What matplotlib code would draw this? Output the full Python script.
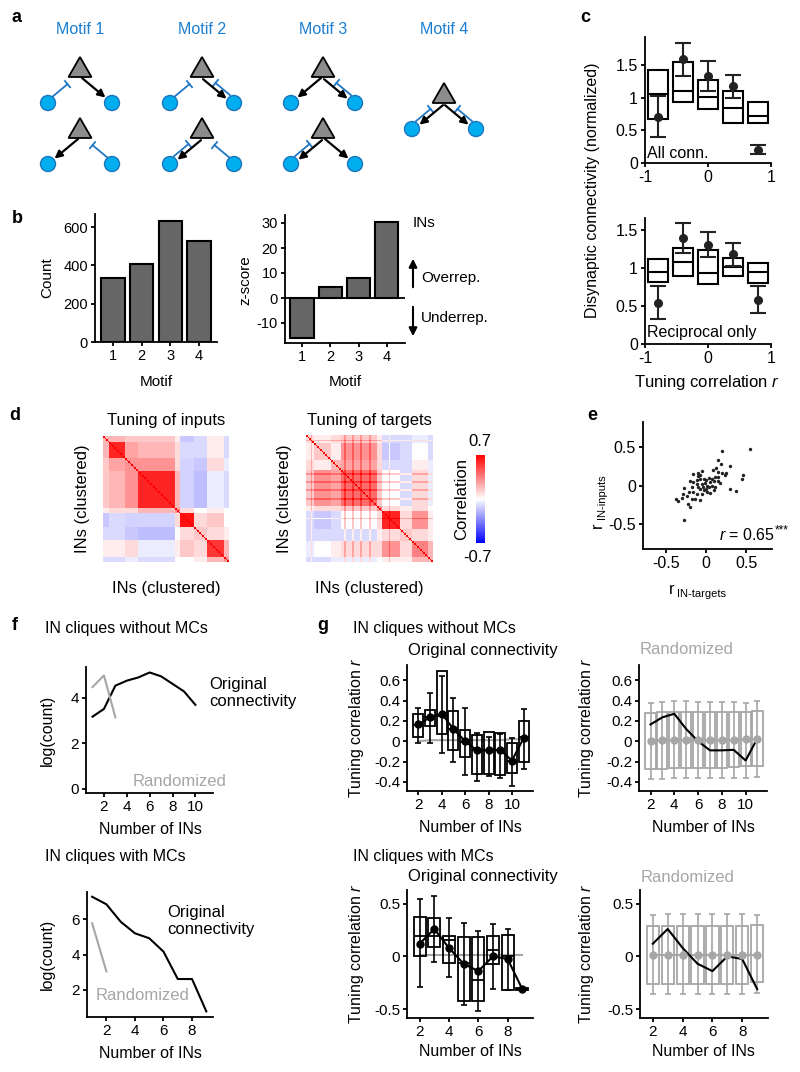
import numpy as np
import matplotlib
matplotlib.use('Agg')
import matplotlib.pyplot as plt
from matplotlib.patches import Polygon, Circle, FancyArrowPatch
from matplotlib.ticker import FuncFormatter

plt.rcParams['font.family'] = ['Liberation Sans', 'DejaVu Sans']
plt.rcParams['axes.unicode_minus'] = False
plt.rcParams['mathtext.fontset'] = 'custom'
plt.rcParams['mathtext.it'] = 'Liberation Sans:italic'
plt.rcParams['mathtext.rm'] = 'Liberation Sans'

# ---- data ----
# a: motif wiring, per row (left, right): e = excitatory arrow, i = inhibitory, b = both
motif_names = ['Motif 1', 'Motif 2', 'Motif 3', 'Motif 4']
motif_rows = [
    [('i', 'e'), ('e', 'i')],
    [('i', 'b'), ('b', 'i')],
    [('e', 'b'), ('b', 'e')],
    [('b', 'b')],
]

# b
motif_ids = [1, 2, 3, 4]
motif_count = [334, 406, 633, 529]
motif_z = [-16, 4.4, 8, 30.5]

# c
c_bins = [-0.8, -0.4, 0, 0.4, 0.8]
c_all_q1 = [0.675, 0.93, 0.83, 0.62, 0.62]
c_all_med = [1.05, 1.11, 1.015, 0.84, 0.72]
c_all_q3 = [1.43, 1.54, 1.27, 1.11, 0.94]
c_all_mean = [0.71, 1.59, 1.335, 1.18, 0.20]
c_all_lo = [0.40, 1.33, 1.10, 0.99, 0.14]
c_all_hi = [1.03, 1.84, 1.56, 1.35, 0.27]
c_rec_q1 = [0.82, 0.90, 0.79, 0.90, 0.80]
c_rec_med = [0.95, 1.075, 0.935, 1.01, 0.95]
c_rec_q3 = [1.12, 1.27, 1.24, 1.13, 1.07]
c_rec_mean = [0.54, 1.40, 1.31, 1.19, 0.58]
c_rec_lo = [0.33, 1.20, 1.14, 1.03, 0.41]
c_rec_hi = [0.76, 1.60, 1.47, 1.33, 0.76]

# d: cluster boundaries (IN index) and between-cluster correlations (upper triangle)
inputs_bounds = [0, 4, 14, 22, 46, 49, 58, 66, 77, 80]
inputs_blocks = [
    [0.20, 0.20, 0.15, 0.15, 0.05, -0.15, -0.10, 0.05, -0.10],
    [0.60, 0.25, 0.20, 0.10, -0.10, -0.10, 0.05, -0.10],
    [0.30, 0.30, 0.10, -0.12, -0.15, 0.10, -0.05],
    [0.60, 0.20, -0.12, -0.18, -0.05, -0.10],
    [0.30, 0.10, 0.00, 0.05, 0.00],
    [0.65, 0.10, 0.15, 0.00],
    [0.15, 0.10, 0.05],
    [0.55, 0.20],
    [0.30],
]
targets_bounds = [0, 5, 16, 22, 45, 48, 59, 67, 77, 80]
targets_blocks = [
    [0.10, 0.05, 0.10, 0.15, 0.05, -0.10, -0.10, -0.05, -0.10],
    [0.15, 0.05, 0.30, 0.10, -0.15, -0.10, 0.00, -0.10],
    [0.20, 0.25, 0.10, -0.10, -0.10, 0.05, -0.05],
    [0.40, 0.15, 0.00, -0.10, 0.10, -0.05],
    [0.30, 0.10, 0.05, 0.10, 0.00],
    [0.60, 0.10, 0.30, 0.05],
    [0.15, 0.10, 0.05],
    [0.35, 0.20],
    [0.20],
]
targets_hubs = [3, 24, 29, 34, 40, 52]

# e
e_targets = [0.54, 0.20, 0.15, 0.18, 0.30, 0.125, 0.08, 0.14, 0.24, 0.23, 0.14, 0.11,
             0.46, 0.44, 0.30, 0.37, -0.16, -0.10, -0.05, -0.10, -0.16, -0.075, -0.03,
             0.0, 0.03, 0.05, -0.01, -0.05, -0.10, -0.075, -0.03, 0.03, 0.07, 0.11, 0.09,
             0.05, 0.01, -0.05, -0.12, -0.16, -0.22, -0.275, -0.29, -0.24, -0.18, -0.14,
             -0.075, -0.375, -0.35, -0.30, -0.23, -0.20, -0.275, -0.12, 0.01, -0.04, 0.14,
             0.17, 0.20, -0.12, -0.18, 0.09, 0.07, -0.20, -0.075, 0.0]
e_inputs = [0.47, 0.44, 0.33, 0.28, 0.25, 0.23, 0.20, 0.18, 0.16, 0.13, 0.11, 0.11,
            0.14, 0.09, -0.05, -0.07, 0.15, 0.16, 0.19, 0.12, 0.05, 0.08, 0.09,
            0.07, 0.10, 0.05, 0.03, 0.02, -0.02, -0.04, -0.06, -0.02, 0.0, -0.02, -0.06,
            -0.10, -0.09, -0.11, -0.11, -0.08, -0.08, -0.03, -0.11, -0.14, -0.17, -0.18,
            -0.19, -0.17, -0.20, -0.155, -0.24, -0.28, -0.45, 0.07, 0.0, -0.02, 0.06,
            0.03, 0.16, 0.02, -0.02, 0.06, 0.09, 0.06, 0.13, -0.04]

# f
f_top_n = [1, 2, 3, 4, 5, 6, 7, 8, 9, 10]
f_top_orig = [3.16, 3.50, 4.52, 4.74, 4.88, 5.10, 4.93, 4.60, 4.27, 3.68]
f_top_rand_n = [1, 2, 3]
f_top_rand = [4.46, 4.97, 3.13]
f_bot_n = [1, 2, 3, 4, 5, 6, 7, 8, 9]
f_bot_orig = [7.29, 6.86, 5.87, 5.21, 4.93, 4.17, 2.61, 2.61, 0.77]
f_bot_rand_n = [1, 2]
f_bot_rand = [5.78, 3.04]

# g, cliques without MCs
g1_n = [2, 3, 4, 5, 6, 7, 8, 9, 10, 11]
g1_mean = [0.165, 0.235, 0.27, 0.12, 0.0, -0.09, -0.09, -0.085, -0.19, 0.03]
g1_hi = [0.325, 0.475, 0.64, 0.43, 0.325, 0.08, 0.04, 0.07, 0.03, 0.32]
g1_lo = [-0.016, -0.02, -0.12, -0.20, -0.33, -0.39, -0.345, -0.36, -0.44, -0.27]
g1_q3 = [0.27, 0.31, 0.69, 0.30, 0.11, 0.06, 0.09, 0.08, -0.02, 0.20]
g1_q1 = [0.04, 0.145, 0.07, -0.09, -0.16, -0.32, -0.32, -0.33, -0.31, -0.20]
g1_med = [0.155, 0.24, 0.25, 0.12, -0.01, -0.09, -0.09, -0.09, -0.19, 0.04]
g1_rand_mean = [0.0, 0.01, 0.01, 0.01, 0.01, 0.01, 0.01, 0.01, 0.02, 0.02]
g1_rand_q3 = [0.28, 0.29, 0.29, 0.29, 0.29, 0.29, 0.29, 0.29, 0.29, 0.30]
g1_rand_q1 = [-0.27, -0.27, -0.26, -0.26, -0.26, -0.26, -0.26, -0.25, -0.24, -0.24]
g1_rand_hi = [0.38, 0.39, 0.40, 0.40, 0.39, 0.39, 0.39, 0.39, 0.38, 0.40]
g1_rand_lo = [-0.37, -0.37, -0.36, -0.36, -0.36, -0.36, -0.36, -0.36, -0.36, -0.35]

# g, cliques with MCs
g2_n = [2, 3, 4, 5, 6, 7, 8, 9]
g2_mean = [0.12, 0.26, 0.08, -0.07, -0.14, 0.0, -0.025, -0.31]
g2_hi = [0.54, 0.57, 0.36, 0.32, 0.24, 0.31, 0.26, -0.30]
g2_lo = [-0.29, -0.054, -0.20, -0.46, -0.52, -0.31, -0.32, -0.32]
g2_q3 = [0.37, 0.365, 0.19, 0.18, 0.18, 0.19, 0.20, -0.30]
g2_q1 = [0.005, 0.09, -0.063, -0.42, -0.42, -0.07, -0.32, -0.32]
g2_med = [0.19, 0.19, 0.16, -0.06, -0.22, 0.06, 0.0, -0.31]
g2_rand_mean = [0.01, 0.01, 0.01, 0.01, 0.01, 0.01, 0.01, 0.01]
g2_rand_q3 = [0.29, 0.29, 0.29, 0.29, 0.29, 0.29, 0.29, 0.30]
g2_rand_q1 = [-0.26, -0.26, -0.26, -0.26, -0.26, -0.26, -0.26, -0.24]
g2_rand_hi = [0.39, 0.40, 0.40, 0.40, 0.40, 0.40, 0.40, 0.39]
g2_rand_lo = [-0.36, -0.36, -0.36, -0.36, -0.36, -0.36, -0.36, -0.35]

# ---- helpers ----
W, H = 800, 1072
fig = plt.figure(figsize=(8, 10.72), dpi=100)
GRAY = '#a6a6a6'
BLUE_TXT = '#1b7fd1'
BLUE_LINE = '#2277c4'
fmt = FuncFormatter(lambda v, p: f'{round(v, 3):g}')
FS = 11.5


def add_ax(x0, y0, x1, y1):
    return fig.add_axes([x0 / W, 1 - y1 / H, (x1 - x0) / W, (y1 - y0) / H])


def ftext(x, y, s, **kw):
    kw.setdefault('ha', 'center')
    kw.setdefault('va', 'center')
    kw.setdefault('fontsize', FS)
    fig.text(x / W, 1 - y / H, s, **kw)


def style(ax, size=11):
    for s in ['top', 'right']:
        ax.spines[s].set_visible(False)
    for s in ['left', 'bottom']:
        ax.spines[s].set_linewidth(1.3)
    ax.tick_params(direction='out', length=3, width=1.3, labelsize=size, pad=2)
    ax.yaxis.set_major_formatter(fmt)
    ax.xaxis.set_major_formatter(fmt)


def block_matrix(bounds, blocks, hubs=()):
    n = bounds[-1]
    m = np.zeros((n, n))
    k = len(bounds) - 1
    for i in range(k):
        for j in range(i, k):
            v = blocks[i][j - i]
            m[bounds[i]:bounds[i + 1], bounds[j]:bounds[j + 1]] = v
            m[bounds[j]:bounds[j + 1], bounds[i]:bounds[i + 1]] = v
    for h in hubs:
        m[h, :] += 0.15
        m[:, h] += 0.15
    m = np.clip(m, -0.7, 0.7)
    np.fill_diagonal(m, 0.7)
    return m


def draw_conn(ax, cx, ay, side, kind):
    p0 = np.array([cx + side * 2, ay + 21])
    p1 = np.array([cx + side * 32, ay + 46])
    d = (p1 - p0) / np.linalg.norm(p1 - p0)
    n = np.array([side * abs(d[1]), -abs(d[0])])
    if kind in ('e', 'b'):
        off = -1.5 * n if kind == 'b' else 0 * n
        a0 = p0 + off
        a1 = p1 - 8.5 * d + off
        ax.annotate('', xy=a1, xytext=a0,
                    arrowprops=dict(arrowstyle='-|>', color='k', lw=1.6,
                                    mutation_scale=11, shrinkA=0, shrinkB=0))
    if kind in ('i', 'b'):
        off = 3.5 * n if kind == 'b' else 2 * n
        b0 = p1 - 8 * d + off
        b1 = p0 + 12 * d + off
        ax.plot([b0[0], b1[0]], [b0[1], b1[1]], color=BLUE_LINE, lw=1.3)
        ax.plot([b1[0] - 4 * n[0], b1[0] + 4 * n[0]],
                [b1[1] - 4 * n[1], b1[1] + 4 * n[1]], color=BLUE_LINE, lw=1.3)


# ---- a ----
axa = add_ax(0, 0, 560, 200)
axa.set_xlim(0, 560)
axa.set_ylim(200, 0)
axa.axis('off')
motif_x = [80, 202, 323, 444]
for k, name in enumerate(motif_names):
    cx = motif_x[k]
    ftext(cx, 30, name, color=BLUE_TXT, fontsize=11.5)
    rows = motif_rows[k]
    apexes = [57, 118] if len(rows) == 2 else [83]
    for ay, (left, right) in zip(apexes, rows):
        draw_conn(axa, cx, ay, -1, left)
        draw_conn(axa, cx, ay, 1, right)
        for side in (-1, 1):
            axa.add_patch(Circle((cx + side * 32, ay + 46), 7.5, fc='#00aeef',
                                 ec='#1b75bc', lw=1, zorder=3))
        axa.add_patch(Polygon([(cx, ay), (cx - 11.5, ay + 20), (cx + 11.5, ay + 20)],
                              closed=True, fc='#8c8c8c', ec='k', lw=1.3, zorder=4))

# ---- b ----
axb1 = add_ax(95, 214, 217, 342)
style(axb1, 10.5)
axb1.bar(motif_ids, motif_count, width=0.82, color='#666666', edgecolor='k', lw=1.5)
axb1.set_xlim(0.37, 4.63)
axb1.set_ylim(0, 668)
axb1.set_yticks([0, 200, 400, 600])
axb1.set_xticks(motif_ids)
ftext(47, 278, 'Count', fontsize=11)
fig.texts[-1].set_rotation(90)
ftext(156, 382, 'Motif', fontsize=11)

axb2 = add_ax(285, 215, 405, 343)
style(axb2, 10.5)
axb2.bar(motif_ids, motif_z, width=0.82, color='#666666', edgecolor='k', lw=1.5)
axb2.axhline(0, color='k', lw=1.3)
axb2.set_xlim(0.4, 4.64)
axb2.set_ylim(-18, 33.2)
axb2.set_yticks([-10, 0, 10, 20, 30])
axb2.set_xticks(motif_ids)
ftext(245, 280, 'z-score', rotation=90, fontsize=11)
ftext(345, 382, 'Motif', fontsize=11)
ftext(413, 223, 'INs', ha='left', fontsize=11)
ftext(421, 278, 'Overrep.', ha='left', fontsize=11)
ftext(421, 318, 'Underrep.', ha='left', fontsize=11)
fig.add_artist(FancyArrowPatch(
    (413 / W, 1 - 290 / H), (413 / W, 1 - 256 / H), transform=fig.transFigure,
    arrowstyle='-|>', mutation_scale=12, color='k', lw=1.5))
fig.add_artist(FancyArrowPatch(
    (413 / W, 1 - 304 / H), (413 / W, 1 - 339 / H), transform=fig.transFigure,
    arrowstyle='-|>', mutation_scale=12, color='k', lw=1.5))


# ---- c ----
def c_panel(ax, q1, med, q3, mean, lo, hi, ymax, label, label_y):
    style(ax, 11.5)
    x = np.array(c_bins)
    q1, q3, med = np.array(q1), np.array(q3), np.array(med)
    mean, lo, hi = np.array(mean), np.array(lo), np.array(hi)
    ax.bar(x, q3 - q1, bottom=q1, width=0.32, fill=False, edgecolor='k', lw=1.5)
    ax.hlines(med, x - 0.16, x + 0.16, color='k', lw=1.5)
    ax.errorbar(x, mean, yerr=[mean - lo, hi - mean], fmt='o', color='#222222',
                ms=5.5, capsize=6, elinewidth=1.5, capthick=1.5)
    ax.set_xlim(-1, 1)
    ax.set_ylim(0, ymax)
    ax.set_xticks([-1, 0, 1])
    ax.set_yticks([0, 0.5, 1, 1.5])
    ax.text(-0.97, label_y, label, fontsize=11.5, va='center')


axc1 = add_ax(645, 37, 771, 163)
c_panel(axc1, c_all_q1, c_all_med, c_all_q3, c_all_mean, c_all_lo, c_all_hi,
        1.93, 'All conn.', 0.15)
axc2 = add_ax(645, 218, 771, 344)
c_panel(axc2, c_rec_q1, c_rec_med, c_rec_q3, c_rec_mean, c_rec_lo, c_rec_hi,
        1.66, 'Reciprocal only', 0.15)
ftext(593, 190, 'Disynaptic connectivity (normalized)', rotation=90)
ftext(707, 382, 'Tuning correlation $r$', fontsize=12)

# ---- d ----
m_in = block_matrix(inputs_bounds, inputs_blocks)
m_tg = block_matrix(targets_bounds, targets_blocks, targets_hubs)
axd1 = add_ax(103, 436, 228, 562)
im = axd1.imshow(m_in, cmap='bwr', vmin=-0.7, vmax=0.7, aspect='auto',
                 interpolation='nearest')
axd1.axis('off')
axd2 = add_ax(306, 435, 433, 562)
axd2.imshow(m_tg, cmap='bwr', vmin=-0.7, vmax=0.7, aspect='auto',
            interpolation='nearest')
axd2.axis('off')
ftext(166, 420, 'Tuning of inputs', fontsize=12)
ftext(369, 420, 'Tuning of targets', fontsize=12)
ftext(166, 588, 'INs (clustered)', fontsize=12)
ftext(369, 588, 'INs (clustered)', fontsize=12)
ftext(83, 499, 'INs (clustered)', rotation=90, fontsize=12)
ftext(285, 499, 'INs (clustered)', rotation=90, fontsize=12)
cax = add_ax(476, 455, 485, 543)
cb = fig.colorbar(im, cax=cax, ticks=[])
cb.outline.set_visible(False)
ftext(480, 442, '0.7', fontsize=12)
ftext(478, 557, '-0.7', fontsize=12)
ftext(462, 499, 'Correlation', rotation=90, fontsize=12)

# ---- e ----
axe = add_ax(643, 422, 772, 549)
style(axe, 11.5)
axe.scatter(e_targets, e_inputs, s=6, color='#222222', lw=0)
axe.set_xlim(-0.79, 0.82)
axe.set_ylim(-0.82, 0.82)
axe.set_xticks([-0.5, 0, 0.5])
axe.set_yticks([-0.5, 0, 0.5])
ftext(775, 535, '$r$ = 0.65', ha='right')
ftext(775, 530, '***', ha='left', fontsize=8.5)
ftext(672, 589, 'r', fontsize=12)
ftext(677, 594, 'IN-targets', ha='left', fontsize=8)
ftext(597, 525, 'r', fontsize=12, rotation=90)
ftext(602, 519, 'IN-inputs', va='bottom', fontsize=8, rotation=90)

# ---- f ----
axf1 = add_ax(86, 667, 213, 793)
style(axf1)
axf1.plot(f_top_n, f_top_orig, color='k', lw=1.5)
axf1.plot(f_top_rand_n, f_top_rand, color=GRAY, lw=1.5)
axf1.set_xlim(0.43, 11.54)
axf1.set_ylim(-0.19, 5.34)
axf1.set_xticks([2, 4, 6, 8, 10])
axf1.set_yticks([0, 2, 4])
ftext(45, 628, 'IN cliques without MCs', ha='left')
ftext(209, 693, 'Original\nconnectivity', ha='left', fontsize=12, linespacing=1.15)
ftext(133, 781, 'Randomized', ha='left', color=GRAY, fontsize=12)
ftext(47, 730, 'log(count)', rotation=90)
ftext(150, 830, 'Number of INs')

axf2 = add_ax(87, 892, 213, 1017)
style(axf2)
axf2.plot(f_bot_n, f_bot_orig, color='k', lw=1.5)
axf2.plot(f_bot_rand_n, f_bot_rand, color=GRAY, lw=1.5)
axf2.set_xlim(0.64, 9.47)
axf2.set_ylim(0.45, 7.56)
axf2.set_xticks([2, 4, 6, 8])
axf2.set_yticks([2, 4, 6])
ftext(45, 857, 'IN cliques with MCs', ha='left')
ftext(167, 921, 'Original\nconnectivity', ha='left', fontsize=12, linespacing=1.15)
ftext(96, 995, 'Randomized', ha='left', color=GRAY, fontsize=12)
ftext(47, 954, 'log(count)', rotation=90)
ftext(150, 1053, 'Number of INs')


# ---- g ----
def g_orig(ax, n, q1, med, q3, mean, lo, hi, rmean, bw):
    style(ax)
    n = np.array(n)
    q1, q3, med = np.array(q1), np.array(q3), np.array(med)
    mean, lo, hi = np.array(mean), np.array(lo), np.array(hi)
    ax.plot(n, rmean, color=GRAY, lw=1.5, zorder=1)
    ax.bar(n, q3 - q1, bottom=q1, width=bw, fill=False, edgecolor='k', lw=1.3)
    ax.hlines(med, n - bw / 2, n + bw / 2, color='k', lw=1.3)
    ax.errorbar(n, mean, yerr=[mean - lo, hi - mean], fmt='none', ecolor='k',
                capsize=2.5, elinewidth=1.2, capthick=1.2)
    ax.plot(n, mean, color='k', lw=1.5, marker='o', ms=5)


def g_rand(ax, n, q1, q3, mean, lo, hi, omean, bw):
    style(ax)
    n = np.array(n)
    q1, q3 = np.array(q1), np.array(q3)
    mean, lo, hi = np.array(mean), np.array(lo), np.array(hi)
    ax.bar(n, q3 - q1, bottom=q1, width=bw, fill=False, edgecolor=GRAY, lw=1.3)
    ax.errorbar(n, mean, yerr=[mean - lo, hi - mean], fmt='o', color=GRAY,
                ms=5, capsize=2.5, elinewidth=1.2, capthick=1.2)
    ax.plot(n, mean, color=GRAY, lw=1.5)
    ax.plot(n, omean, color='k', lw=1.5)


axg1 = add_ax(407, 665, 533, 791)
g_orig(axg1, g1_n, g1_q1, g1_med, g1_q3, g1_mean, g1_lo, g1_hi, g1_rand_mean, 0.85)
axg2 = add_ax(639, 665, 767, 791)
g_rand(axg2, g1_n, g1_rand_q1, g1_rand_q3, g1_rand_mean, g1_rand_lo, g1_rand_hi,
       g1_mean, 0.85)
for ax in (axg1, axg2):
    ax.set_xlim(1.03, 11.8)
    ax.set_ylim(-0.49, 0.75)
    ax.set_xticks([2, 4, 6, 8, 10])
    ax.set_yticks([-0.4, -0.2, 0, 0.2, 0.4, 0.6])

axg3 = add_ax(407, 890, 533, 1018)
g_orig(axg3, g2_n, g2_q1, g2_med, g2_q3, g2_mean, g2_lo, g2_hi, g2_rand_mean, 0.82)
axg4 = add_ax(640, 890, 768, 1018)
g_rand(axg4, g2_n, g2_rand_q1, g2_rand_q3, g2_rand_mean, g2_rand_lo, g2_rand_hi,
       g2_mean, 0.82)
for ax in (axg3, axg4):
    ax.set_xlim(1.14, 9.73)
    ax.set_ylim(-0.585, 0.63)
    ax.set_xticks([2, 4, 6, 8])
    ax.set_yticks([-0.5, 0, 0.5])

ftext(353, 628, 'IN cliques without MCs', ha='left')
ftext(483, 650, 'Original connectivity', fontsize=12)
ftext(687, 650, 'Randomized', color=GRAY, fontsize=12)
ftext(353, 857, 'IN cliques with MCs', ha='left')
ftext(483, 877, 'Original connectivity', fontsize=12)
ftext(688, 877, 'Randomized', color=GRAY, fontsize=12)
for x in (357, 587):
    ftext(x, 728, 'Tuning correlation $r$', rotation=90)
    ftext(x, 954, 'Tuning correlation $r$', rotation=90)
for x in (470, 703):
    ftext(x, 828, 'Number of INs')
    ftext(x, 1051, 'Number of INs')

# ---- panel letters ----
for s, x, y in [('a', 17, 18), ('b', 17, 218), ('c', 585, 18), ('d', 15, 415),
                ('e', 592, 415), ('f', 15, 625), ('g', 323, 625)]:
    ftext(x, y, s, fontsize=13, fontweight='bold')

fig.savefig('out.png', dpi=100)
